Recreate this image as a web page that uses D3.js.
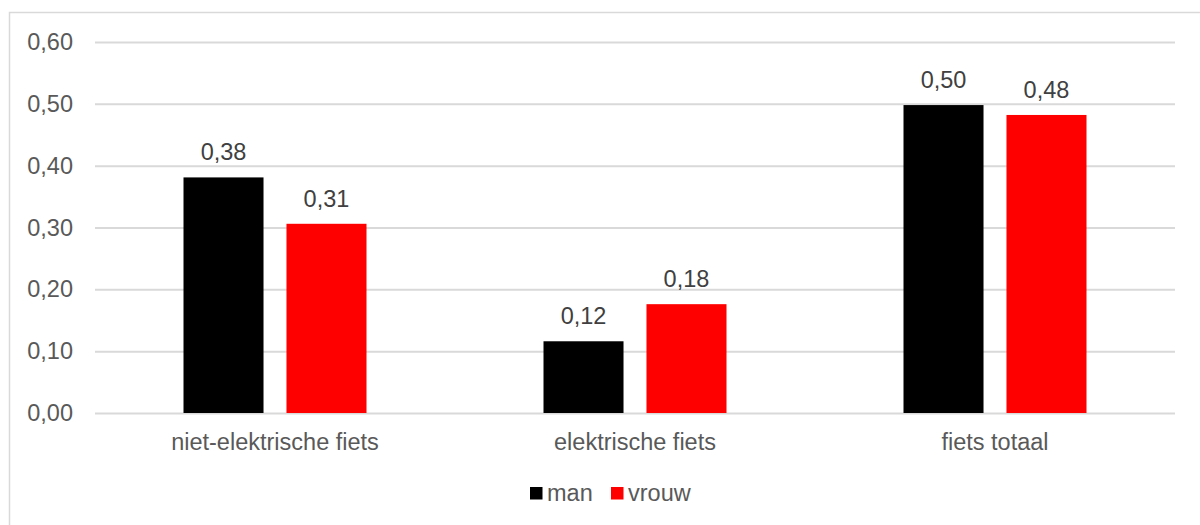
<!DOCTYPE html>
<html>
<head>
<meta charset="utf-8">
<script src="https://cdn.jsdelivr.net/npm/d3@7"></script>
<style>
  body { margin: 0; background: #fff; }
  svg { display: block; font-family: "Liberation Sans", Arial, sans-serif; }
</style>
</head>
<body>
<div id="chart"></div>
<script>
const categories = ['niet-elektrische fiets', 'elektrische fiets', 'fiets totaal'];
const seriesNames = ['man', 'vrouw'];
const man = [0.381, 0.116, 0.498];
const vrouw = [0.306, 0.176, 0.482];
const yTicks = [0, 0.1, 0.2, 0.3, 0.4, 0.5, 0.6];

const colors = {man: '#000000', vrouw: '#ff0000'};
const width = 1200, height = 525;
const margins = {'top': 42, 'right': 25, 'bottom': 112, 'left': 95};

const fmt = v => d3.format('.2f')(v).replace('.', ',');

const svg = d3.select('#chart')
  .append('svg')
  .attr('width', width)
  .attr('height', height);

// outer chart border (runs off the right/bottom edge like the reference)
svg.append('rect')
  .attr('x', 9.5)
  .attr('y', 12.5)
  .attr('width', width)
  .attr('height', height)
  .attr('fill', 'none')
  .attr('stroke', '#d9d9d9')
  .attr('stroke-width', 1.5);

const x = d3.scaleBand()
  .domain(categories)
  .range([margins.left, width - margins.right]);

const xInner = d3.scaleBand()
  .domain(seriesNames)
  .range([0, 183])
  .paddingInner(0.223);

const y = d3.scaleLinear()
  .domain([0, 0.6])
  .range([height - margins.bottom, margins.top]);

// gridlines + y labels
const yAxis = svg.append('g')
  .attr('transform', `translate(${margins.left}, 0)`)
  .call(d3.axisLeft(y).tickValues(yTicks).tickFormat(fmt)
    .tickSize(-(width - margins.left - margins.right)).tickPadding(22));
yAxis.select('.domain').remove();
yAxis.selectAll('line').attr('stroke', '#d9d9d9').attr('stroke-width', 2);
yAxis.selectAll('text')
  .attr('fill', '#595959')
  .attr('font-size', '23.5px');

// bars
const rows = categories.map((c, i) => ({cat: c, values: [
  {name: 'man', v: man[i]},
  {name: 'vrouw', v: vrouw[i]}
]}));

const groups = svg.selectAll('g.cat')
  .data(rows)
  .enter()
  .append('g')
  .attr('class', 'cat')
  .attr('transform', d => `translate(${x(d.cat) + x.bandwidth() / 2 - 91.5}, 0)`);

groups.selectAll('rect')
  .data(d => d.values)
  .enter()
  .append('rect')
  .attr('x', d => xInner(d.name))
  .attr('width', xInner.bandwidth())
  .attr('y', d => y(d.v))
  .attr('height', d => y(0) - y(d.v))
  .attr('fill', d => colors[d.name]);

groups.selectAll('text')
  .data(d => d.values)
  .enter()
  .append('text')
  .attr('x', d => xInner(d.name) + xInner.bandwidth() / 2)
  .attr('y', d => y(d.v) - 17)
  .attr('text-anchor', 'middle')
  .attr('fill', '#404040')
  .attr('font-size', '23.5px')
  .text(d => fmt(d.v));

// x labels
svg.append('g')
  .selectAll('text')
  .data(categories)
  .enter()
  .append('text')
  .attr('x', d => x(d) + x.bandwidth() / 2)
  .attr('y', y(0) + 37)
  .attr('text-anchor', 'middle')
  .attr('fill', '#595959')
  .attr('font-size', '23.5px')
  .text(d => d);

// legend
const legend = svg.append('g').attr('class', 'legend');
const legendX = [530, 611];
seriesNames.forEach((name, i) => {
  legend.append('rect')
    .attr('x', legendX[i])
    .attr('y', 487)
    .attr('width', 12.5)
    .attr('height', 12.5)
    .attr('fill', colors[name]);
  legend.append('text')
    .attr('x', legendX[i] + 17)
    .attr('y', 501)
    .attr('fill', '#595959')
    .attr('font-size', '23.5px')
    .text(name);
});
</script>
</body>
</html>
